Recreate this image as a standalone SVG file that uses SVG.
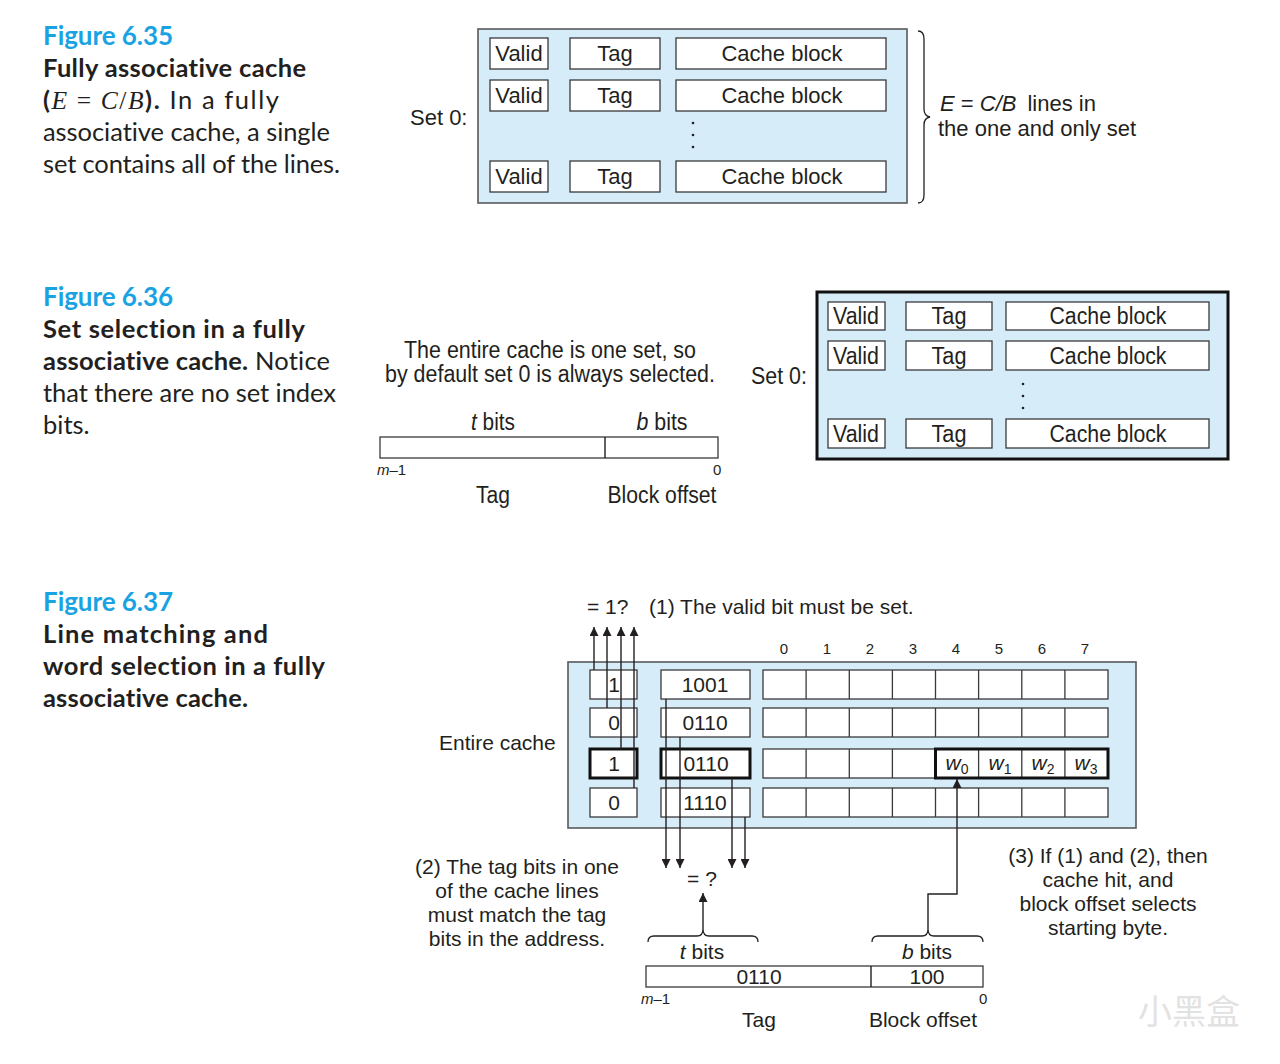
<svg xmlns="http://www.w3.org/2000/svg" width="1280" height="1064" viewBox="0 0 1280 1064">
<style>
.cap{font-family:Lato,"Open Sans",sans-serif;font-size:25.5px;fill:#231f20;font-variant-ligatures:none;font-feature-settings:"liga" 0,"dlig" 0}
.capb{font-weight:bold}
.fig{font-family:Lato,"Open Sans",sans-serif;font-size:26px;font-weight:bold;fill:#1aa3e3}
.t{font-family:"Liberation Sans",Arial,sans-serif;font-size:21px;fill:#231f20}
.tl{font-family:"Liberation Sans",Arial,sans-serif;font-size:22px;fill:#231f20}
.tn{font-family:"Liberation Sans Narrow","Liberation Sans",Arial,sans-serif;font-size:23px;fill:#231f20}
.ts{font-family:"Liberation Sans",Arial,sans-serif;font-size:15px;fill:#231f20}
.mid{text-anchor:middle}
.panel{fill:#d6ecf9;stroke:#58595b;stroke-width:1.6}
.panelk{fill:#d6ecf9;stroke:#111;stroke-width:3}
.box{fill:#fff;stroke:#3a3a3a;stroke-width:1.3}
.boxb{fill:#fff;stroke:#111;stroke-width:3}
.bar{fill:#fff;stroke:#3a3a3a;stroke-width:1.3}
.ln{fill:none;stroke:#231f20;stroke-width:1.4}
.br{fill:none;stroke:#231f20;stroke-width:1.3}
.dot{fill:#231f20}
</style>
<defs>
<marker id="ah" viewBox="0 0 10 10" refX="10" refY="5" markerWidth="10" markerHeight="9" markerUnits="userSpaceOnUse" orient="auto">
<path d="M0,0 L10,5 L0,10 z" fill="#231f20"/>
</marker>
</defs>

<!-- ===== Captions ===== -->
<g id="caption-635">
<text class="fig" x="43" y="45" textLength="130" lengthAdjust="spacing">Figure 6.35</text>
<text class="cap capb" x="43" y="77" textLength="263" lengthAdjust="spacing">Fully associative cache</text>
<text class="cap" x="43" y="109" textLength="236" lengthAdjust="spacing"><tspan font-weight="bold">(</tspan><tspan font-family="'Liberation Serif',serif" font-style="italic">E</tspan><tspan font-family="'Liberation Serif',serif"> = </tspan><tspan font-family="'Liberation Serif',serif" font-style="italic">C</tspan><tspan font-family="'Liberation Serif',serif">/</tspan><tspan font-family="'Liberation Serif',serif" font-style="italic">B</tspan><tspan font-weight="bold">).</tspan> In a fully</text>
<text class="cap" x="43" y="141" textLength="287" lengthAdjust="spacing">associative cache, a single</text>
<text class="cap" x="43" y="173" textLength="297" lengthAdjust="spacing">set contains all of the lines.</text>
</g>
<g id="caption-636">
<text class="fig" x="43" y="306" textLength="130" lengthAdjust="spacing">Figure 6.36</text>
<text class="cap capb" x="43" y="338" textLength="262" lengthAdjust="spacing">Set selection in a fully</text>
<text class="cap" x="43" y="370" textLength="287" lengthAdjust="spacing"><tspan font-weight="bold">associative cache.</tspan> Notice</text>
<text class="cap" x="43" y="402" textLength="293" lengthAdjust="spacing">that there are no set index</text>
<text class="cap" x="43" y="434">bits.</text>
</g>
<g id="caption-637">
<text class="fig" x="43" y="611" textLength="130" lengthAdjust="spacing">Figure 6.37</text>
<text class="cap capb" x="43" y="643" textLength="225" lengthAdjust="spacing">Line matching and</text>
<text class="cap capb" x="43" y="675" textLength="282" lengthAdjust="spacing">word selection in a fully</text>
<text class="cap capb" x="43" y="707" textLength="205" lengthAdjust="spacing">associative cache.</text>
</g>

<!-- ===== Figure 6.35 ===== -->
<g id="f635-set">
<text class="tl" x="410" y="125">Set 0:</text>
<rect class="panel" x="478" y="29" width="429" height="174"/>
</g>
<g id="f635-line1">
<rect class="box" x="490" y="38" width="58" height="31"/><text class="tl mid" x="519" y="61">Valid</text>
<rect class="box" x="570" y="38" width="90" height="31"/><text class="tl mid" x="615" y="61">Tag</text>
<rect class="box" x="676" y="38" width="210" height="31"/><text class="tl mid" x="782" y="61">Cache block</text>
</g>
<g id="f635-line2">
<rect class="box" x="490" y="80" width="58" height="31"/><text class="tl mid" x="519" y="103">Valid</text>
<rect class="box" x="570" y="80" width="90" height="31"/><text class="tl mid" x="615" y="103">Tag</text>
<rect class="box" x="676" y="80" width="210" height="31"/><text class="tl mid" x="782" y="103">Cache block</text>
</g>
<g id="f635-dots">
<circle class="dot" cx="693" cy="123" r="1.3"/><circle class="dot" cx="693" cy="135" r="1.3"/><circle class="dot" cx="693" cy="147" r="1.3"/>
</g>
<g id="f635-line3">
<rect class="box" x="490" y="161" width="58" height="31"/><text class="tl mid" x="519" y="184">Valid</text>
<rect class="box" x="570" y="161" width="90" height="31"/><text class="tl mid" x="615" y="184">Tag</text>
<rect class="box" x="676" y="161" width="210" height="31"/><text class="tl mid" x="782" y="184">Cache block</text>
</g>
<g id="f635-brace">
<path class="br" d="M918,31 Q924,31 924,39 L924,109 Q924,116 930,117 Q924,118 924,125 L924,195 Q924,203 918,203"/>
<text class="tl" x="940" y="111"><tspan font-style="italic">E</tspan> = <tspan font-style="italic">C/B</tspan><tspan dx="11">lines in</tspan></text>
<text class="tl" x="938" y="136">the one and only set</text>
</g>

<!-- ===== Figure 6.36 ===== -->
<g id="f636-note">
<text class="tn mid" x="550" y="358" textLength="292" lengthAdjust="spacingAndGlyphs">The entire cache is one set, so</text>
<text class="tn mid" x="550" y="382" textLength="330" lengthAdjust="spacingAndGlyphs">by default set 0 is always selected.</text>
</g>
<g id="f636-address">
<text class="tn mid" x="493" y="430" textLength="44" lengthAdjust="spacingAndGlyphs"><tspan font-style="italic">t</tspan> bits</text>
<text class="tn mid" x="662" y="430" textLength="51" lengthAdjust="spacingAndGlyphs"><tspan font-style="italic">b</tspan> bits</text>
<rect class="bar" x="380" y="437" width="338" height="21"/>
<line class="ln" x1="605" y1="437" x2="605" y2="458"/>
<text class="ts" x="377" y="475"><tspan font-style="italic">m</tspan>–1</text>
<text class="ts" x="713" y="475">0</text>
<text class="tn mid" x="493" y="503" textLength="34" lengthAdjust="spacingAndGlyphs">Tag</text>
<text class="tn mid" x="662" y="503" textLength="109" lengthAdjust="spacingAndGlyphs">Block offset</text>
</g>
<g id="f636-set">
<text class="tn" x="751" y="384" textLength="56" lengthAdjust="spacingAndGlyphs">Set 0:</text>
<rect class="panelk" x="817" y="292" width="411" height="167"/>
</g>
<g id="f636-line1">
<rect class="box" x="828" y="302" width="57" height="28"/><text class="tn mid" x="856" y="324" textLength="46" lengthAdjust="spacingAndGlyphs">Valid</text>
<rect class="box" x="906" y="302" width="86" height="28"/><text class="tn mid" x="949" y="324" textLength="35" lengthAdjust="spacingAndGlyphs">Tag</text>
<rect class="box" x="1006" y="302" width="203" height="28"/><text class="tn mid" x="1108" y="324" textLength="117" lengthAdjust="spacingAndGlyphs">Cache block</text>
</g>
<g id="f636-line2">
<rect class="box" x="828" y="341" width="57" height="29"/><text class="tn mid" x="856" y="364" textLength="46" lengthAdjust="spacingAndGlyphs">Valid</text>
<rect class="box" x="906" y="341" width="86" height="29"/><text class="tn mid" x="949" y="364" textLength="35" lengthAdjust="spacingAndGlyphs">Tag</text>
<rect class="box" x="1006" y="341" width="203" height="29"/><text class="tn mid" x="1108" y="364" textLength="117" lengthAdjust="spacingAndGlyphs">Cache block</text>
</g>
<g id="f636-dots">
<circle class="dot" cx="1023" cy="384" r="1.3"/><circle class="dot" cx="1023" cy="396" r="1.3"/><circle class="dot" cx="1023" cy="408" r="1.3"/>
</g>
<g id="f636-line3">
<rect class="box" x="828" y="419" width="57" height="29"/><text class="tn mid" x="856" y="442" textLength="46" lengthAdjust="spacingAndGlyphs">Valid</text>
<rect class="box" x="906" y="419" width="86" height="29"/><text class="tn mid" x="949" y="442" textLength="35" lengthAdjust="spacingAndGlyphs">Tag</text>
<rect class="box" x="1006" y="419" width="203" height="29"/><text class="tn mid" x="1108" y="442" textLength="117" lengthAdjust="spacingAndGlyphs">Cache block</text>
</g>

<!-- ===== Figure 6.37 ===== -->
<g id="f637-labels">
<text class="t" x="587" y="614">= 1?</text>
<text class="t" x="649" y="614">(1) The valid bit must be set.</text>
<text class="t" x="439" y="750">Entire cache</text>
<text class="ts mid" x="784" y="654">0</text>
<text class="ts mid" x="827" y="654">1</text>
<text class="ts mid" x="870" y="654">2</text>
<text class="ts mid" x="913" y="654">3</text>
<text class="ts mid" x="956" y="654">4</text>
<text class="ts mid" x="999" y="654">5</text>
<text class="ts mid" x="1042" y="654">6</text>
<text class="ts mid" x="1085" y="654">7</text>
</g>
<g id="f637-cache">
<rect class="panel" x="568" y="662" width="568" height="166"/>
</g>
<g id="f637-row0">
<rect class="box" x="590" y="670" width="47" height="29"/><text class="t mid" x="614" y="692">1</text>
<rect class="box" x="661" y="670" width="89" height="29"/><text class="t mid" x="705" y="692">1001</text>
<g class="box"><rect x="763" y="670" width="345" height="29"/><path d="M806.1,670v29M849.3,670v29M892.4,670v29M935.5,670v29M978.6,670v29M1021.8,670v29M1064.9,670v29"/></g>
</g>
<g id="f637-row1">
<rect class="box" x="590" y="708" width="47" height="29"/><text class="t mid" x="614" y="730">0</text>
<rect class="box" x="661" y="708" width="89" height="29"/><text class="t mid" x="705" y="730">0110</text>
<g class="box"><rect x="763" y="708" width="345" height="29"/><path d="M806.1,708v29M849.3,708v29M892.4,708v29M935.5,708v29M978.6,708v29M1021.8,708v29M1064.9,708v29"/></g>
</g>
<g id="f637-row2">
<rect class="boxb" x="590" y="749" width="47" height="29"/><text class="t mid" x="614" y="771">1</text>
<rect class="boxb" x="661" y="749" width="89" height="29"/><text class="t mid" x="706" y="771">0110</text>
<g class="box"><rect x="763" y="749" width="345" height="29"/><path d="M806.1,749v29M849.3,749v29M892.4,749v29M978.6,749v29M1021.8,749v29M1064.9,749v29"/></g>
<rect x="935.5" y="749" width="172.5" height="29" fill="none" stroke="#111" stroke-width="3"/>
<text class="t mid" x="957" y="770" font-size="19"><tspan font-style="italic">w</tspan><tspan font-size="14" dy="4">0</tspan></text>
<text class="t mid" x="1000" y="770" font-size="19"><tspan font-style="italic">w</tspan><tspan font-size="14" dy="4">1</tspan></text>
<text class="t mid" x="1043" y="770" font-size="19"><tspan font-style="italic">w</tspan><tspan font-size="14" dy="4">2</tspan></text>
<text class="t mid" x="1086" y="770" font-size="19"><tspan font-style="italic">w</tspan><tspan font-size="14" dy="4">3</tspan></text>
</g>
<g id="f637-row3">
<rect class="box" x="590" y="788" width="47" height="29"/><text class="t mid" x="614" y="810">0</text>
<rect class="box" x="661" y="788" width="89" height="29"/><text class="t mid" x="705" y="810">1110</text>
<g class="box"><rect x="763" y="788" width="345" height="29"/><path d="M806.1,788v29M849.3,788v29M892.4,788v29M935.5,788v29M978.6,788v29M1021.8,788v29M1064.9,788v29"/></g>
</g>
<g id="f637-notes">
<text class="t mid" x="517" y="874">(2) The tag bits in one</text>
<text class="t mid" x="517" y="898">of the cache lines</text>
<text class="t mid" x="517" y="922">must match the tag</text>
<text class="t mid" x="517" y="946">bits in the address.</text>
<text class="t mid" x="702" y="886">= ?</text>
<text class="t mid" x="1108" y="863">(3) If (1) and (2), then</text>
<text class="t mid" x="1108" y="887">cache hit, and</text>
<text class="t mid" x="1108" y="911">block offset selects</text>
<text class="t mid" x="1108" y="935">starting byte.</text>
</g>
<g id="f637-address">
<path class="br" d="M648,942 Q648,936 654,936 L697,936 Q703,936 703,929 Q703,936 709,936 L752,936 Q758,936 758,942"/>
<path class="br" d="M872,942 Q872,936 878,936 L922,936 Q928,936 928,929 Q928,936 934,936 L977,936 Q983,936 983,942"/>
<text class="t mid" x="702" y="959"><tspan font-style="italic">t</tspan> bits</text>
<text class="t mid" x="927" y="959"><tspan font-style="italic">b</tspan> bits</text>
<rect class="bar" x="646" y="966" width="337" height="21"/>
<line class="ln" x1="871" y1="966" x2="871" y2="987"/>
<text class="t mid" x="759" y="984">0110</text>
<text class="t mid" x="927" y="984">100</text>
<text class="ts" x="641" y="1004"><tspan font-style="italic">m</tspan>–1</text>
<text class="ts" x="979" y="1004">0</text>
<text class="t mid" x="759" y="1027">Tag</text>
<text class="t mid" x="923" y="1027">Block offset</text>
</g>

<g id="connectors">
<line class="ln" x1="594" y1="670" x2="594" y2="627" marker-end="url(#ah)"/>
<line class="ln" x1="607" y1="708" x2="607" y2="627" marker-end="url(#ah)"/>
<line class="ln" x1="621" y1="749" x2="621" y2="627" marker-end="url(#ah)"/>
<line class="ln" x1="634" y1="788" x2="634" y2="627" marker-end="url(#ah)"/>
<line class="ln" x1="666" y1="699" x2="666" y2="868" marker-end="url(#ah)"/>
<line class="ln" x1="680" y1="737" x2="680" y2="868" marker-end="url(#ah)"/>
<line class="ln" x1="732" y1="778" x2="732" y2="868" marker-end="url(#ah)"/>
<line class="ln" x1="745" y1="817" x2="745" y2="868" marker-end="url(#ah)"/>
<line class="ln" x1="703" y1="929" x2="703" y2="893" marker-end="url(#ah)"/>
<path class="ln" d="M928,929 L928,894 L957,894 L957,779" marker-end="url(#ah)"/>
</g>

<g id="watermark">
<text x="1138" y="1024" font-family="'Noto Sans CJK SC',sans-serif" font-size="34" fill="#e2e2e2">小黑盒</text>
</g>
</svg>
